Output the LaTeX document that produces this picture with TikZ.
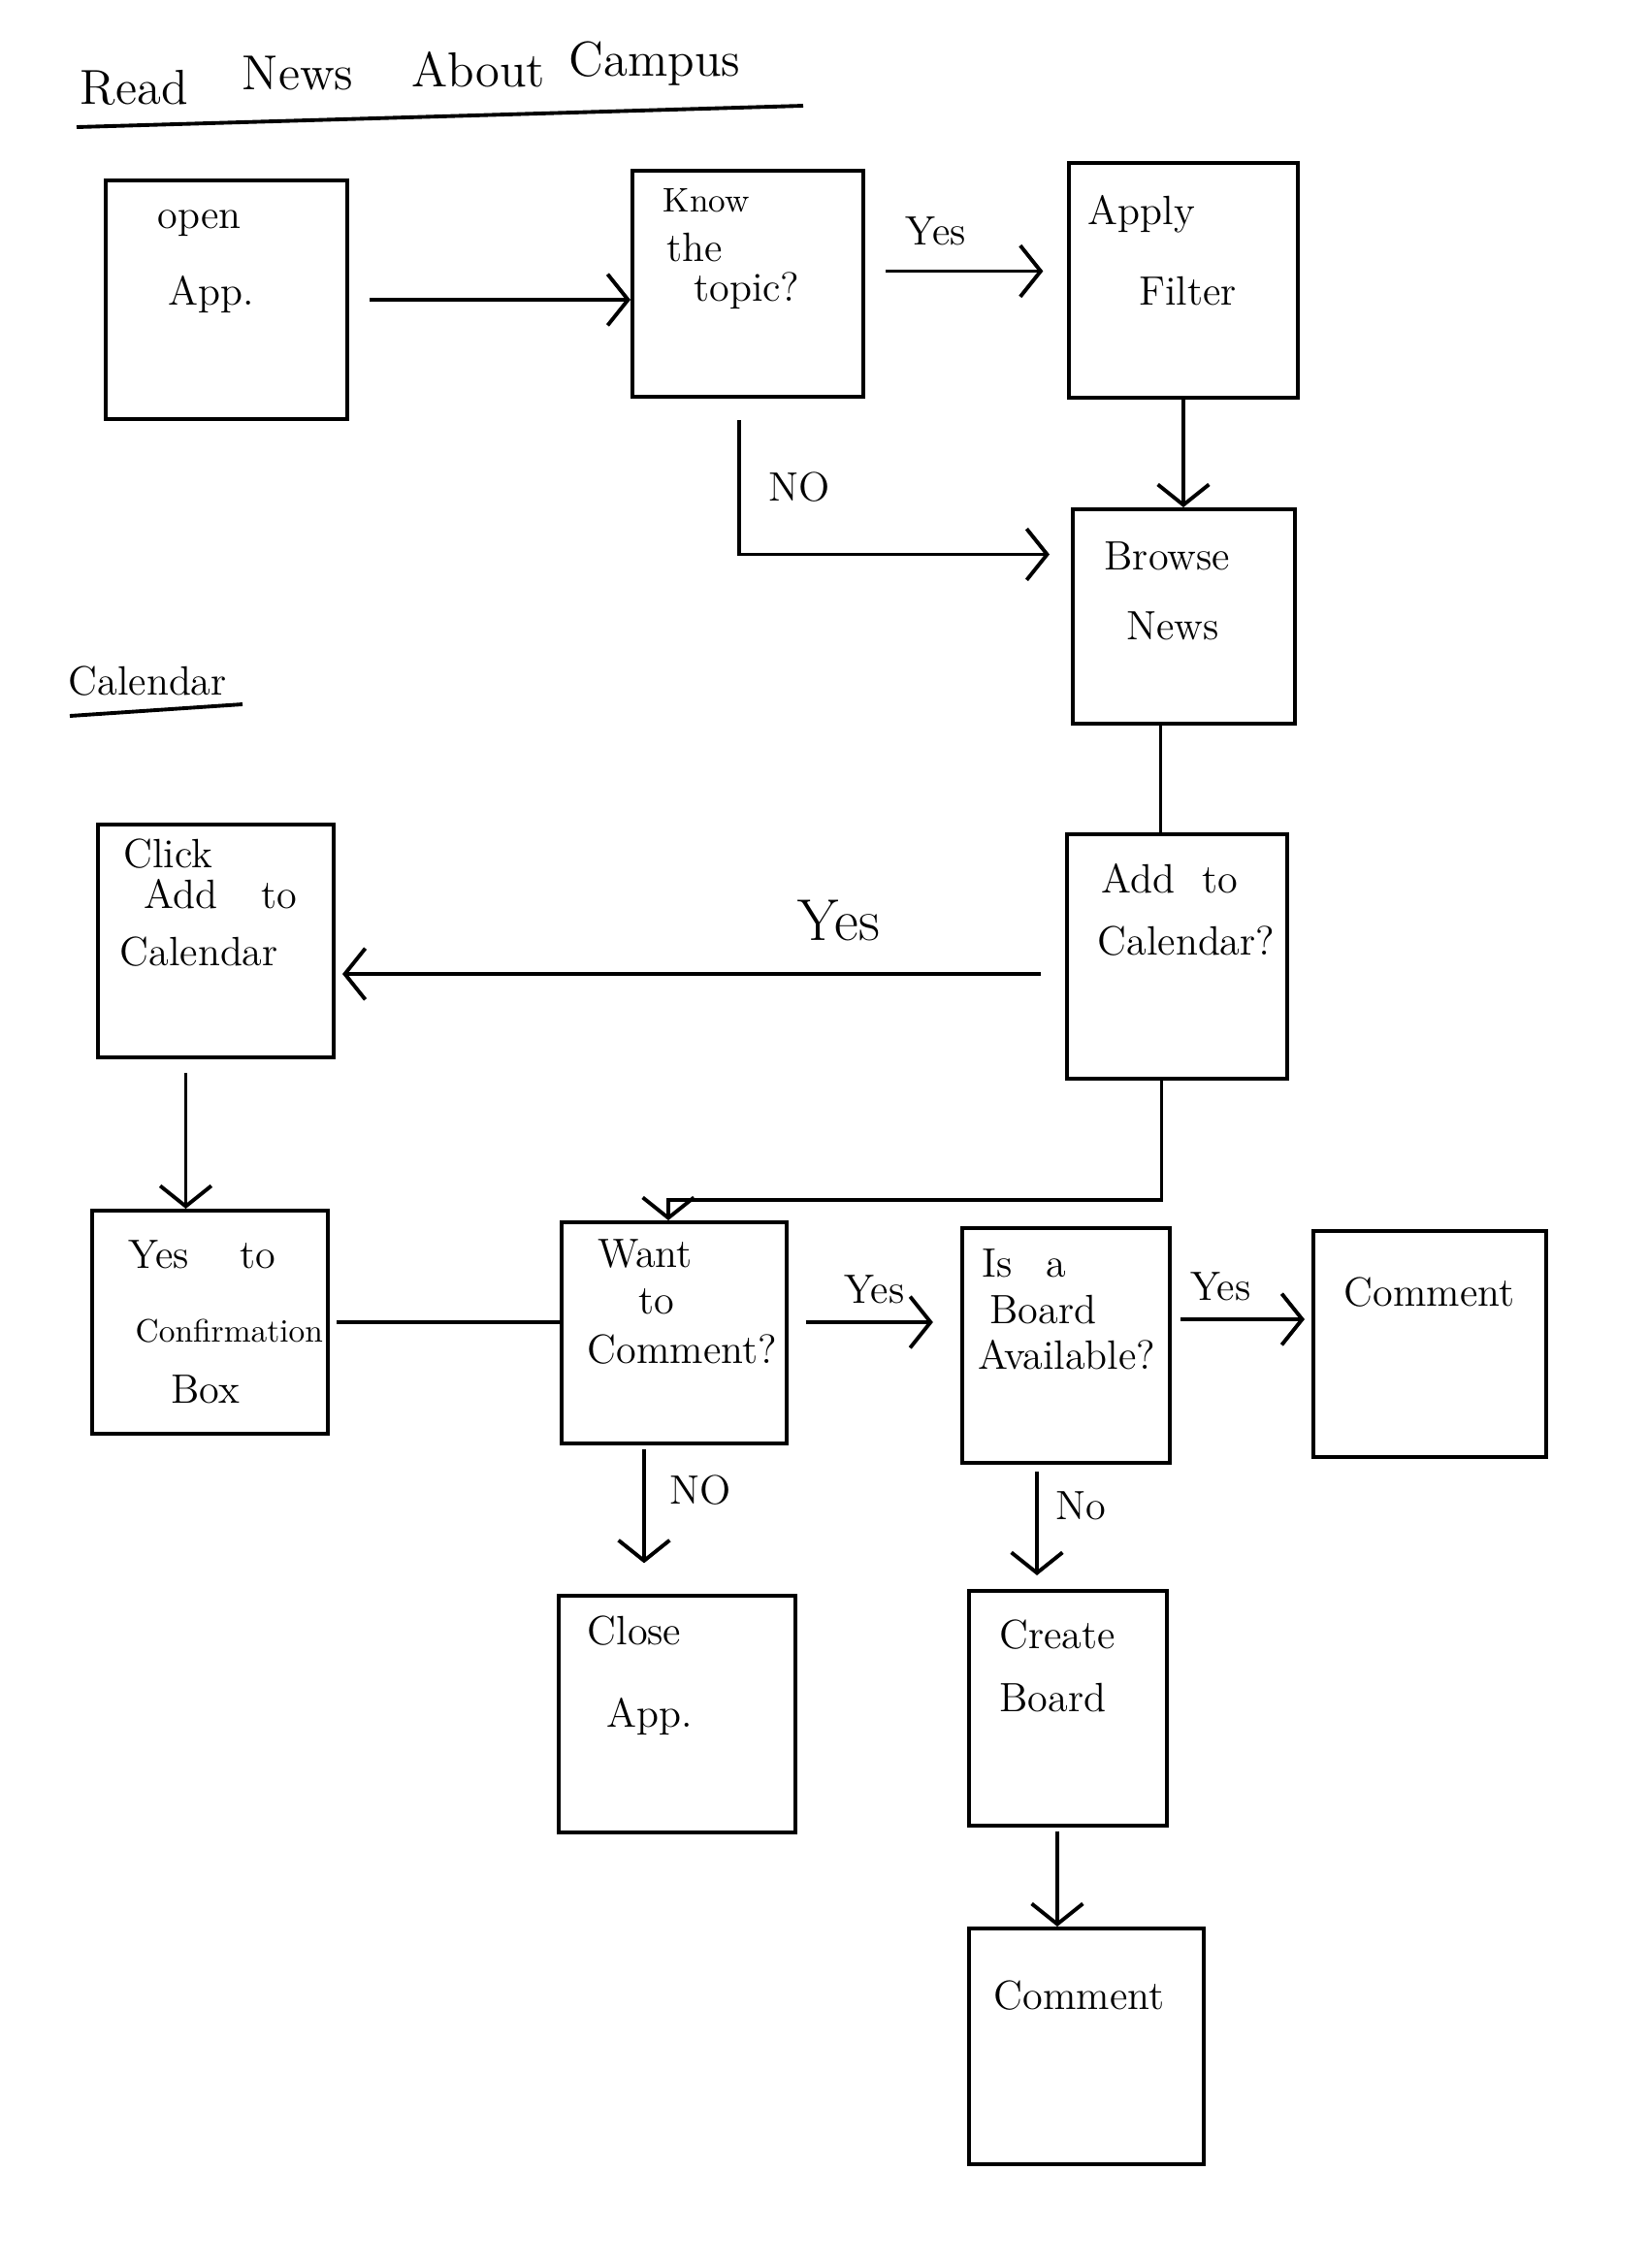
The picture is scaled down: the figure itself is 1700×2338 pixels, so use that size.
\documentclass[tikz,border=0pt]{standalone}
\usetikzlibrary{arrows.meta}

\begin{document}
\begin{tikzpicture}[x=0.01cm,y=-0.01cm]
\tikzstyle{every node}=[font=\fontsize{12}{14.5}\selectfont]
\tikzstyle{box}=[draw, line width=1.1pt, inner sep=0pt]
\tikzstyle{txt}=[anchor=north west, align=left, inner sep=0pt]
\tikzstyle{flow}=[line width=1.1pt, -{Straight Barb[length=6pt,width=15pt,line width=1.1pt]}]
\tikzstyle{plain}=[line width=1.1pt]
\tikzstyle{lbl}=[font=\large, inner sep=0pt]

\useasboundingbox (0,0) rectangle (1700,2338);

% headings
\node[font=\Large, anchor=base west, inner sep=0pt] (title) at (82,100) {\raisebox{-2pt}{Read}\hspace{16pt}\raisebox{2pt}{News}\hspace{17pt}\raisebox{3pt}{About}\hspace{7pt}\raisebox{6pt}{Campus}};
\draw[plain] (79,131) -- (828,109);
\node[font=\large, anchor=base west, inner sep=0pt] (cal) at (70,716) {Calendar};
\draw[plain] (72,738) -- (250,726);

% boxes
\node[box, minimum width=2.49cm, minimum height=2.46cm] (open) at (233.5,309) {};
\node[box, minimum width=2.38cm, minimum height=2.33cm] (know) at (771,292.5) {};
\node[box, minimum width=2.36cm, minimum height=2.42cm] (apply) at (1220,289) {};
\node[box, minimum width=2.29cm, minimum height=2.21cm] (browse) at (1220.5,635.5) {};
\node[box, minimum width=2.27cm, minimum height=2.52cm] (addcal) at (1213.5,986) {};
\node[box, minimum width=2.43cm, minimum height=2.40cm] (click) at (222.5,970) {};
\node[box, minimum width=2.43cm, minimum height=2.30cm] (confirm) at (216.5,1363) {};
\node[box, minimum width=2.32cm, minimum height=2.28cm] (want) at (695,1374) {};
\node[box, minimum width=2.14cm, minimum height=2.42cm] (board) at (1099,1387) {};
\node[box, minimum width=2.40cm, minimum height=2.33cm] (comment1) at (1474,1385.5) {};
\node[box, minimum width=2.44cm, minimum height=2.44cm] (close) at (698,1767) {};
\node[box, minimum width=2.04cm, minimum height=2.42cm] (create) at (1101,1761) {};
\node[box, minimum width=2.42cm, minimum height=2.43cm] (comment2) at (1120,2109.5) {};

% box texts
\node[txt] (open-t) at ([shift={(55,32)}]open.north west) {open\\[8pt]\hspace*{3pt}App.};
\node[txt] (know-t) at ([shift={(33,20)}]know.north west) {{\normalsize Know}\\[0pt]\hspace*{1pt}the\\[-3pt]\hspace*{9pt}topic?};
\node[txt] (apply-t) at ([shift={(21,35)}]apply.north west) {Apply\\[9pt]\hspace*{15pt}Filter};
\node[txt] (browse-t) at ([shift={(34,35)}]browse.north west) {Browse\\[6pt]\hspace*{6.5pt}News};
\node[txt] (addcal-t) at ([shift={(33,32)}]addcal.north west) {\hspace*{1pt}Add\hspace{8pt}to\\[3.7pt]Calendar?};
\node[txt] (click-t) at ([shift={(24,16)}]click.north west) {\hspace*{1pt}Click\\[-2.6pt]\hspace*{7pt}Add\hspace{13pt}to\\[2.3pt]Calendar};
\node[txt] (confirm-t) at ([shift={(39,32)}]confirm.north west) {Yes\hspace{15pt}to\\[7pt]\hspace*{2pt}{\fontsize{9.5}{11}\selectfont Confirmation}\\[3.4pt]\hspace*{12.5pt}Box};
\node[txt] (want-t) at ([shift={(28,19)}]want.north west) {\hspace*{3pt}Want\\[-1pt]\hspace*{15pt}to\\[0pt]Comment?};
\node[txt] (board-t) at ([shift={(18,23)}]board.north west) {\hspace*{1pt}Is\hspace{10pt}a\\[-1pt]\hspace*{3.4pt}Board\\[-1pt]Available?};
\node[txt] (comment1-t) at ([shift={(33,49)}]comment1.north west) {Comment};
\node[txt] (close-t) at ([shift={(31,22)}]close.north west) {Close\\[9.7pt]\hspace*{5.7pt}App.};
\node[txt] (create-t) at ([shift={(33,31)}]create.north west) {Create\\[4pt]Board};
\node[txt] (comment2-t) at ([shift={(27,55)}]comment2.north west) {Comment};

% helper points
\coordinate (ky) at ([shift={(0,-13)}]know.east);
\coordinate (nob) at ([shift={(-22,-64)}]browse.west);
\coordinate (bs) at ([shift={(-24,0)}]browse.south);
\coordinate (ay) at ([shift={(0,18)}]addcal.west);
\coordinate (cs) at ([shift={(-31,0)}]click.south);
\coordinate (as) at ([shift={(-16,0)}]addcal.south);
\coordinate (wy) at ([shift={(0,-11)}]want.east);
\coordinate (by) at ([shift={(0,-27)}]board.east);
\coordinate (ws) at ([shift={(-31,0)}]want.south);
\coordinate (bs2) at ([shift={(-30,0)}]board.south);
\coordinate (crs) at ([shift={(-11,0)}]create.south);

% connectors
\draw[flow, shorten <=6pt] (open.east) -- (open.east -| know.west);
\draw[flow, shorten <=6pt, shorten >=7pt] (ky) -- (ky -| apply.west) node[lbl, pos=0.35, above=7pt] {Yes};
\draw[flow] ([shift={(-9,22)}]know.south) |- (nob) node[lbl, pos=0.25, right=8pt] {NO};
\draw[flow] (apply.south) -- (apply.south |- browse.north);
\draw[plain] (bs) -- (bs |- addcal.north);
\draw[flow, shorten <=7pt, shorten >=2pt] (ay) -- (ay -| click.east) node[lbl, font=\LARGE, pos=0.31, above=9pt] {Yes};
\draw[flow, shorten <=4pt] (cs) -- (cs |- confirm.north);
\draw[flow] (as) -- ++(0,123) -| ([shift={(-6,0)}]want.north);
\draw[plain, shorten <=2pt] (confirm.east) -- (confirm.east -| want.west);
\draw[flow, shorten <=5pt, shorten >=8pt] (wy) -- (wy -| board.west) node[lbl, midway, above=5pt] {Yes};
\draw[flow, shorten <=2.5pt, shorten >=2pt] (by) -- (by -| comment1.west) node[lbl, pos=0.35, above=5pt] {Yes};
\draw[flow, shorten <=1pt, shorten >=9pt] (ws) -- (ws |- close.north) node[lbl, pos=0.3, right=7pt] {NO};
\draw[flow, shorten <=2pt, shorten >=4pt] (bs2) -- (bs2 |- create.north) node[lbl, pos=0.33, right=5pt] {No};
\draw[flow, shorten <=1pt] (crs) -- (crs |- comment2.north);

\end{tikzpicture}
\end{document}
